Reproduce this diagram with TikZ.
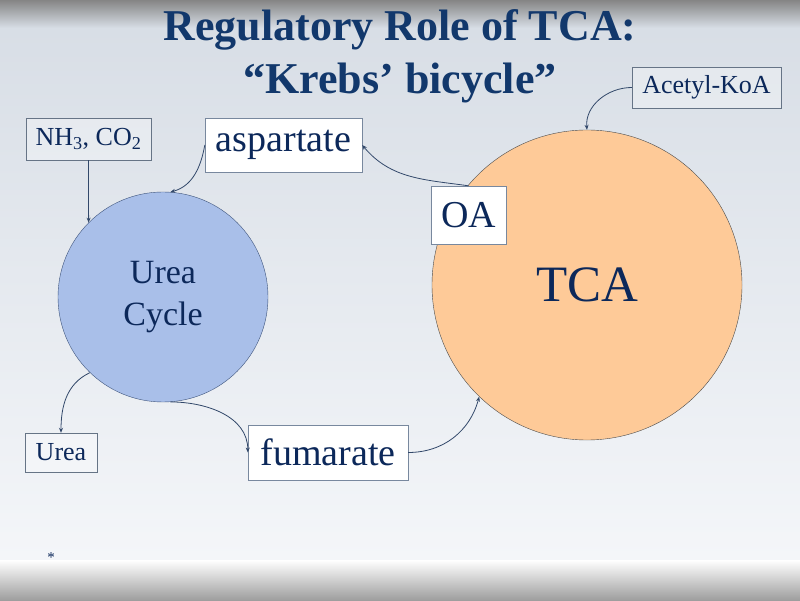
\documentclass[tikz,border=0pt]{standalone}
\usepackage{fontspec}
\setmainfont{Liberation Serif}
\usepackage{tikz}
\usetikzlibrary{arrows.meta, positioning}
\definecolor{krebsNavy}{RGB}{12,40,90}
\definecolor{krebsTitle}{RGB}{18,56,108}
\definecolor{krebsLine}{RGB}{50,72,106}
\definecolor{krebsFrame}{RGB}{120,136,158}
\definecolor{ureaBlue}{RGB}{169,191,233}
\definecolor{tcaPeach}{RGB}{254,202,152}
\definecolor{bgTop}{RGB}{216,222,230}
\definecolor{bgBottom}{RGB}{244,246,249}

\begin{document}
\begin{tikzpicture}[x=1pt, y=1pt,
  cyc/.style={circle, inner sep=0pt, align=center, text=krebsNavy},
  bigbox/.style={rectangle, draw=krebsFrame, fill=white, inner sep=0pt,
                 text=krebsNavy, font=\fontsize{38}{40}\selectfont},
  smallbox/.style={rectangle, draw=krebsFrame!85!black, fill=white, fill opacity=0.3,
                   text opacity=1, inner sep=0pt, text=krebsNavy,
                   font=\fontsize{26}{28}\selectfont},
  arrow/.style={-{Stealth[length=5pt, width=4pt]}, line width=0.8pt, krebsLine},
]
  % background
  \useasboundingbox (0,0) rectangle (800,600);
  \fill[top color=bgTop, bottom color=bgBottom] (0,40) rectangle (800,572);
  \fill[top color=black!48, bottom color=bgTop] (0,572) rectangle (800,600);
  \fill[top color=white, bottom color=black!38] (0,0) rectangle (800,40);

  % title
  \node[anchor=base, text=krebsTitle, font=\fontsize{44}{50}\selectfont\bfseries]
    (title) at (400,559) {Regulatory Role of TCA:};
  \node[anchor=base, text=krebsTitle, font=\fontsize{44}{50}\selectfont\bfseries]
    (titleb) at (400,506) {“Krebs’ bicycle”};

  % cycles
  \node[cyc, draw=krebsNavy!80, fill=ureaBlue, minimum size=210pt,
        font=\fontsize{34}{42}\selectfont] (urea) at (163,303) {Urea\\Cycle};
  \node[cyc, draw=black!70, fill=tcaPeach, minimum size=310pt,
        font=\fontsize{51}{55}\selectfont] (tca) at (587,315) {TCA};

  % metabolites
  \node[bigbox, minimum width=157pt, minimum height=54pt] (asp) at (283.5,455) {aspartate};
  \node[bigbox, minimum width=75pt, minimum height=58pt] (oa) at (468.5,385) {OA};
  \node[bigbox, minimum width=160pt, minimum height=55pt] (fum) at (328,147.5) {fumarate};

  \node[smallbox, minimum width=125pt, minimum height=42pt] (nh) at (88.5,461) {NH\textsubscript{3}, CO\textsubscript{2}};
  \node[smallbox, minimum width=72pt, minimum height=39pt] (ureaout) at (61,147.5) {Urea};
  \node[smallbox, minimum width=149pt, minimum height=41pt] (acoa) at (706.5,512.5) {Acetyl-KoA};

  \draw[arrow] (nh.south) -- (urea.135);
  \draw[arrow] (asp.west) to[out=-100, in=15] (urea.86);
  \draw[arrow] (oa.north) to[out=172, in=-50] (asp.east);
  \draw[arrow] (urea.226) to[out=205, in=90] (ureaout.north);
  \draw[arrow] (urea.-86) to[out=0, in=90] (fum.west);
  \draw[arrow] (fum.east) to[out=0, in=-105] (tca.226);
  \draw[arrow] (acoa.west) to[out=180, in=95] (tca.north);

  \node[text=krebsNavy, font=\fontsize{15}{16}\selectfont] (star) at (51,42) {*};
\end{tikzpicture}
\end{document}
